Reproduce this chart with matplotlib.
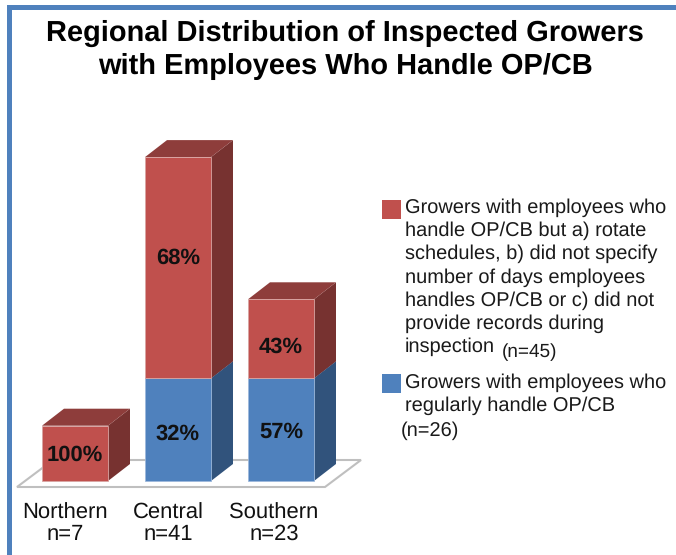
import matplotlib
matplotlib.use('Agg')
import matplotlib.pyplot as plt
from matplotlib.patches import Polygon, Rectangle

plt.rcParams['font.family'] = ['Liberation Sans', 'DejaVu Sans']
plt.rcParams['text.hinting'] = 'no_hinting'
plt.rcParams['text.hinting_factor'] = 1

# data: bar heights are grower counts, labels are the printed shares
regions = ['Northern\nn=7', 'Central\nn=41', 'Southern\nn=23']
blue_counts = [0, 13, 13]
red_counts = [7, 28, 10]
blue_labels = ['', '32%', '57%']
red_labels = ['100%', '68%', '43%']
title = 'Regional Distribution of Inspected Growers\nwith Employees Who Handle OP/CB'
red_legend = ('Growers with employees who\nhandle OP/CB but a) rotate\nschedules, b) did not specify\n'
              'number of days employees\nhandles OP/CB or c) did not\nprovide records during\ninspection')
red_n = '(n=45)'
blue_legend = 'Growers with employees who\nregularly handle OP/CB'
blue_n = '(n=26)'

RED = ('#C0504D', '#8E3D3B', '#773230')
BLUE = ('#4F81BD', '#3E6594', '#31537C')
W, H = 676, 555
PX_X, PX_Y = 103, 7.9
X0, Y0 = 75, 481
DX, DY = 22 / PX_X, 17 / PX_Y
BAR = 66 / PX_X

fig = plt.figure(figsize=(W / 100, H / 100), dpi=100)
ax = fig.add_axes([0, 0, 1, 1])
ax.set_xlim(-X0 / PX_X, (W - X0) / PX_X)
ax.set_ylim((Y0 - H) / PX_Y, Y0 / PX_Y)
ax.axis('off')


def px(x, y):
    return (x - X0) / PX_X, (Y0 - y) / PX_Y


# frame, top and left only
fig.add_artist(Rectangle((7 / W, 0), 5 / W, 1 - 5 / H, color='#4F81BD', lw=0))
fig.add_artist(Rectangle((7 / W, 1 - 10 / H), 1, 5 / H, color='#4F81BD', lw=0))

# floor
ax.add_patch(Polygon([px(17, 487), px(325, 487), px(361, 460), px(53, 460)],
                     fc='white', ec='#BFBFBF', lw=1.5, zorder=1))


def segment(x, bottom, height, cols):
    left, right = x - BAR / 2, x + BAR / 2
    top = bottom + height
    ax.bar(x, height, BAR, bottom=bottom, color=cols[0], edgecolor='#D9A5A3' if cols is RED else '#9DB9DC',
           linewidth=0.6, zorder=3)
    ax.add_patch(Polygon([(right, bottom), (right + DX, bottom + DY), (right + DX, top + DY), (right, top)],
                         fc=cols[2], ec='none', zorder=2))
    ax.add_patch(Polygon([(left, top), (left + DX, top + DY), (right + DX, top + DY), (right, top)],
                         fc=cols[1], ec='none', zorder=2))


label_shift = [-10 / PX_X, -10 / PX_X, -7 / PX_X]
for i in range(len(regions)):
    if blue_counts[i] > 0:
        segment(i, 0, blue_counts[i], BLUE)
    segment(i, blue_counts[i], red_counts[i], RED)
    ax.text(i + label_shift[i], -5.4, regions[i], ha='center', va='center', fontsize=16, color='#111111',
            linespacing=1.0)

# value labels
blue_shift = [0, -0.5, -0.3]
red_shift = [0, 1.2, -1.0]
for i in range(len(regions)):
    if blue_labels[i]:
        ax.text(i, blue_counts[i] / 2 + blue_shift[i], blue_labels[i], ha='center', va='center',
                fontsize=16, fontweight='bold', color='#111111', zorder=5)
    y = blue_counts[i] + red_counts[i] / 2 + red_shift[i]
    if i == 0:
        y -= 0.2
    ax.text(i, y, red_labels[i], ha='center', va='center',
            fontsize=16, fontweight='bold', color='#111111', zorder=5)

fig.text(345 / W, 1 - 50 / H, title, ha='center', va='center', fontsize=21.1, fontweight='bold',
         color='black', linespacing=1.3)

# legend
fig.add_artist(Rectangle((382 / W, 1 - 219 / H), 19 / W, 19 / H, color=RED[0], lw=0))
fig.add_artist(Rectangle((382 / W, 1 - 393 / H), 19 / W, 19 / H, color=BLUE[0], lw=0))
fig.text(405 / W, 1 - 198 / H, red_legend, ha='left', va='top', fontsize=14.65, color='#1A1A1A', linespacing=1.32)
fig.text(502 / W, 1 - 352 / H, red_n, ha='left', va='center', fontsize=13.7, color='#1A1A1A')
fig.text(405 / W, 1 - 373 / H, blue_legend, ha='left', va='top', fontsize=14.65, color='#1A1A1A', linespacing=1.32)
fig.text(401 / W, 1 - 431 / H, blue_n, ha='left', va='center', fontsize=14.2, color='#1A1A1A')

fig.savefig('out.png', dpi=100, facecolor='white')
